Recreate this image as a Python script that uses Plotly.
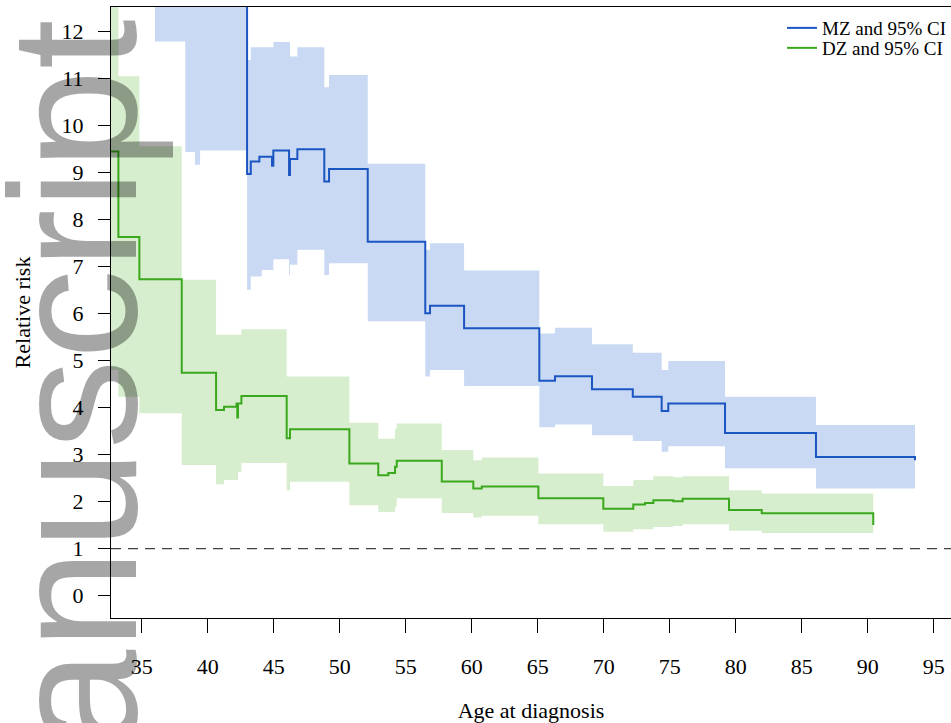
import plotly.graph_objects as go

# ---------------- data ----------------
# MZ twins: step start ages, relative risk, lower / upper 95% CI
mz_age = [36.0, 38.3, 39.04, 39.42, 42.98, 43.26, 43.91, 44.09, 44.87, 44.97,
          46.16, 46.23, 46.79, 48.83, 49.19, 52.12, 56.48, 56.84, 59.42, 65.12,
          66.31, 69.11, 72.20, 74.39, 74.89, 79.19, 86.08]
mz_end_age = 93.58
mz_rr = [18, 18, 18, 18, 8.97, 9.24, 9.34, 9.34, 9.15, 9.47,
         8.95, 9.29, 9.50, 8.81, 9.08, 7.53, 6.01, 6.17, 5.69, 4.57,
         4.67, 4.39, 4.23, 3.93, 4.09, 3.46, 2.95]
mz_end_rr = 2.88
mz_lo = [11.79, 9.44, 9.17, 9.47, 6.51, 6.79, 6.79, 6.93, 6.93, 7.16,
         6.82, 7.04, 7.36, 6.82, 7.07, 5.84, 4.66, 4.80, 4.46, 3.58,
         3.64, 3.41, 3.29, 3.06, 3.18, 2.71, 2.28]
mz_hi = [30, 30, 30, 30, 11.40, 11.67, 11.67, 11.67, 11.67, 11.78,
         11.78, 11.47, 11.67, 10.82, 11.08, 9.19, 7.36, 7.50, 6.92, 5.58,
         5.70, 5.35, 5.17, 4.80, 4.99, 4.23, 3.63]

# DZ twins
dz_age = [32.67, 33.23, 34.82, 38.03, 40.63, 41.23, 42.18, 42.24, 42.29, 42.55,
          45.98, 46.23, 50.73, 52.92, 53.68, 54.19, 54.32, 57.73, 60.12, 60.76,
          65.05, 69.97, 72.24, 73.13, 73.76, 75.27, 75.98, 79.49, 81.97]
dz_end_age = 90.42
dz_rr = [9.45, 7.63, 6.73, 4.74, 3.95, 4.02, 4.09, 3.79, 4.09, 4.25,
         3.35, 3.54, 2.81, 2.56, 2.61, 2.74, 2.87, 2.43, 2.28, 2.32,
         2.07, 1.85, 1.94, 1.97, 2.03, 2.01, 2.06, 1.82, 1.75]
dz_end_rr = 1.50
dz_lo = [4.8, 4.23, 3.88, 2.78, 2.37, 2.46, 2.46, 2.46, 2.63, 2.82,
         2.24, 2.42, 1.92, 1.78, 1.78, 1.89, 2.07, 1.76, 1.66, 1.70,
         1.52, 1.36, 1.41, 1.41, 1.46, 1.48, 1.52, 1.38, 1.33]
dz_hi = [15, 11.05, 9.56, 6.72, 5.55, 5.55, 5.55, 5.55, 5.55, 5.67,
         4.66, 4.66, 3.68, 3.34, 3.34, 3.55, 3.66, 3.10, 2.88, 2.94,
         2.60, 2.33, 2.46, 2.46, 2.54, 2.52, 2.54, 2.24, 2.17]

series_names = ["MZ and 95% CI", "DZ and 95% CI"]
x_ticks = [35, 40, 45, 50, 55, 60, 65, 70, 75, 80, 85, 90, 95]
y_ticks = [0, 1, 2, 3, 4, 5, 6, 7, 8, 9, 10, 11, 12]
ref_level = 1
x_title = "Age at diagnosis"
y_title = "Relative risk"
watermark = "anuscript"

# ---------------- styles ----------------
MZ_LINE = "#1b55c2"
MZ_FILL = "#c9d9f3"
DZ_LINE = "#3aa81c"
DZ_FILL = "#d6eecd"
SERIF = "Liberation Serif"


def steps(starts, vals, end, end_val=None):
    x = list(starts) + [end]
    y = list(vals) + [vals[-1] if end_val is None else end_val]
    return x, y


fig = go.Figure()

# confidence bands
for age, lo, hi, end, fillc in [(mz_age, mz_lo, mz_hi, mz_end_age, MZ_FILL),
                                (dz_age, dz_lo, dz_hi, dz_end_age, DZ_FILL)]:
    x, ylo = steps(age, lo, end)
    _, yhi = steps(age, hi, end)
    fig.add_trace(go.Scatter(x=x, y=ylo, mode="lines",
                             line=dict(width=0, shape="hv", color=fillc),
                             showlegend=False, hoverinfo="skip"))
    fig.add_trace(go.Scatter(x=x, y=yhi, mode="lines",
                             line=dict(width=0, shape="hv", color=fillc),
                             fill="tonexty", fillcolor=fillc,
                             showlegend=False, hoverinfo="skip"))

# step lines
x, y = steps(mz_age, mz_rr, mz_end_age, mz_end_rr)
fig.add_trace(go.Scatter(x=x, y=y, mode="lines", name=series_names[0],
                         legend="legend",
                         line=dict(color=MZ_LINE, width=2, shape="hv")))
x, y = steps(dz_age, dz_rr, dz_end_age, dz_end_rr)
fig.add_trace(go.Scatter(x=x, y=y, mode="lines", name=series_names[1],
                         legend="legend2",
                         line=dict(color=DZ_LINE, width=2, shape="hv")))

fig.add_hline(y=ref_level, line=dict(color="#444444", width=1.3, dash="10px,7px"))

fig.add_annotation(text=watermark, textangle=-90, xref="paper", yref="paper",
                   x=-0.044, y=0.382, xanchor="center", yanchor="middle",
                   showarrow=False,
                   font=dict(family="Liberation Sans", size=180,
                             color="rgba(0,0,0,0.35)"))

legend_style = dict(xanchor="left", x=0.7988, yanchor="middle",
                    bgcolor="rgba(255,255,255,0)", borderwidth=0,
                    font=dict(family=SERIF, size=19, color="black"))

fig.update_layout(
    width=951, height=723,
    margin=dict(l=111, r=0, t=7, b=105, autoexpand=False),
    paper_bgcolor="white", plot_bgcolor="white",
    font=dict(family=SERIF, color="black"),
    showlegend=True,
    legend=dict(y=0.9656, **legend_style),
    legend2=dict(y=0.9329, **legend_style),
    xaxis=dict(range=[32.67, 96.31], tickmode="array", tickvals=x_ticks,
               automargin=False,
               ticks="outside", ticklen=14, tickwidth=1, tickcolor="black",
               showline=True, linecolor="black", linewidth=1.3, mirror=True,
               showgrid=False, zeroline=False,
               tickfont=dict(family=SERIF, size=22, color="black"),
               ticklabelstandoff=14,
               title=dict(text=x_title, font=dict(family=SERIF, size=22),
                          standoff=30)),
    yaxis=dict(range=[-0.477, 12.526], tickmode="array", tickvals=y_ticks,
               automargin=False,
               ticks="outside", ticklen=12, tickwidth=1, tickcolor="black",
               showline=True, linecolor="black", linewidth=1.3, mirror=False,
               showgrid=False, zeroline=False,
               tickfont=dict(family=SERIF, size=22, color="black"),
               ticklabelstandoff=10,
               title=dict(text=y_title, font=dict(family=SERIF, size=22),
                          standoff=24)),
)

fig.write_html("out.html",
               config={"displayModeBar": False},
               post_script="document.body.style.margin='0px';"
                           "document.body.style.overflow='hidden';")
